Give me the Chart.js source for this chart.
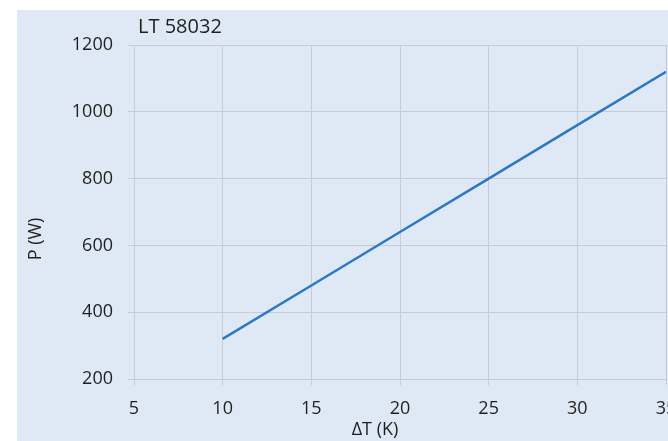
<!DOCTYPE html>
<html>
<head>
<meta charset="utf-8">
<script src="https://cdn.jsdelivr.net/npm/chart.js@4/dist/chart.umd.min.js"></script>
<style>
  html, body { margin: 0; padding: 0; background: #fff; overflow: hidden; }
  #wrap { position: absolute; left: 0; top: 0; width: 668px; height: 441px; }
</style>
</head>
<body>
<div id="wrap"><canvas id="powerChart" width="668" height="441"></canvas></div>
<script>
// values
const deltaT = [10, 15, 20, 25, 30, 35];
const power = [320, 480, 640, 800, 960, 1120];
const xTicks = [5, 10, 15, 20, 25, 30, 35];
const yTicks = [200, 400, 600, 800, 1000, 1200];
const chartTitle = 'LT 58032';
const xLabel = 'ΔT (K)';
const yLabel = 'P (W)';

const FONT = '"Open Sans", "Liberation Sans", sans-serif';
const GRID = '#c6ccd4';
const TEXT = '#1f1f1f';

// background panel + texts placed like the original export
const decor = {
    id: 'decor',
    beforeDraw(chart) {
        let ctx = chart.ctx;
        ctx.save();
        ctx.fillStyle = '#dfe9f5';
        ctx.fillRect(17, 10, chart.width - 17, chart.height - 10);
        ctx.restore();
    },
    afterDraw(chart) {
        let ctx = chart.ctx;
        let area = chart.chartArea;
        ctx.save();
        ctx.fillStyle = TEXT;
        ctx.textBaseline = 'middle';
        ctx.font = '20px ' + FONT;
        ctx.textAlign = 'left';
        ctx.fillText(chartTitle, area.left + 4, 27);

        ctx.font = '18px ' + FONT;
        ctx.textAlign = 'center';
        ctx.fillText(xLabel, 375, 430);

        ctx.translate(36, 239);
        ctx.rotate(-Math.PI / 2);
        ctx.fillText(yLabel, 0, 0);
        ctx.restore();
    }
};

let ctx = document.getElementById('powerChart').getContext('2d');
new Chart(ctx, {
    type: 'scatter',
    data: {
        datasets: [{
            label: chartTitle,
            data: deltaT.map((t, i) => ({ x: t, y: power[i] })),
            showLine: true,
            borderColor: '#2f77c3',
            backgroundColor: '#2f77c3',
            borderWidth: 2.5,
            pointRadius: 0,
            tension: 0
        }]
    },
    options: {
        responsive: false,
        animation: false,
        layout: { padding: { left: 0, right: 2, top: 45, bottom: 0 } },
        plugins: {
            legend: { display: false },
            tooltip: { enabled: false }
        },
        scales: {
            x: {
                type: 'linear',
                min: 5,
                max: 35,
                afterBuildTicks(scale) {
                    scale.ticks = xTicks.map(v => ({ value: v }));
                },
                afterFit(scale) {
                    scale.height = 62;
                    scale.paddingLeft = 0;
                    scale.paddingRight = 0;
                },
                grid: { color: GRID, lineWidth: 1, tickLength: 6 },
                border: { color: GRID },
                ticks: {
                    color: TEXT,
                    font: { family: FONT, size: 18 },
                    padding: 13,
                    maxRotation: 0,
                    callback: v => String(v)
                }
            },
            y: {
                min: 200,
                max: 1200,
                afterBuildTicks(scale) {
                    scale.ticks = yTicks.map(v => ({ value: v }));
                },
                afterFit(scale) {
                    scale.width = 134;
                },
                grid: { color: GRID, lineWidth: 1, tickLength: 6 },
                border: { color: GRID },
                ticks: {
                    color: TEXT,
                    font: { family: FONT, size: 18 },
                    padding: 15,
                    callback: v => String(v)
                }
            }
        }
    },
    plugins: [decor]
});
</script>
</body>
</html>
